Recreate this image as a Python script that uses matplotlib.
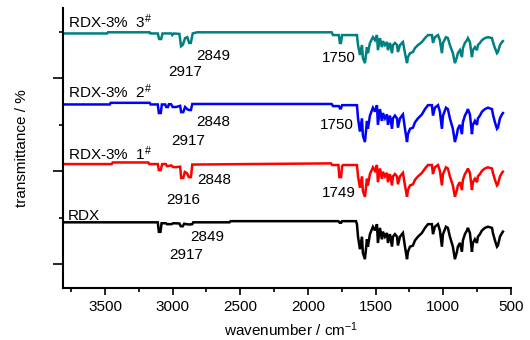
import matplotlib
matplotlib.use("Agg")
import matplotlib.pyplot as plt
from matplotlib.ticker import MultipleLocator

plt.rcParams['font.family'] = ['Liberation Sans', 'DejaVu Sans']
plt.rcParams['mathtext.fontset'] = 'custom'
plt.rcParams['mathtext.rm'] = 'Liberation Sans'
plt.rcParams['mathtext.it'] = 'Liberation Sans'
plt.rcParams['mathtext.bf'] = 'Liberation Sans'

# ---- data ----
series_names = ["RDX-3%  3$^{\\#}$", "RDX-3%  2$^{\\#}$", "RDX-3%  1$^{\\#}$", "RDX"]
series_colors = ["#008080", "#0000FF", "#FF0000", "#000000"]

wn_fp = [1638, 1630, 1616, 1601, 1594, 1579, 1564, 1557, 1542, 1520,
         1505, 1490, 1483, 1468, 1453, 1446, 1431, 1416, 1409, 1394,
         1379, 1372, 1357, 1342, 1335, 1320, 1305, 1298, 1283, 1268,
         1261, 1246, 1224, 1209, 1187, 1158, 1135, 1113, 1084, 1076,
         1062, 1039, 1025, 1010, 1002, 980, 966, 951, 929, 914,
         899, 892, 877, 862, 855, 840, 825, 818, 803, 788,
         781, 766, 751, 744, 729, 714, 692, 670, 640, 633,
         618, 603, 596, 581, 566, 559]

# teal (RDX-3% 3#)
wn_hi_3 = [3810, 3485, 3478, 3170, 3165, 3110, 3100, 3085, 3075, 3010, 3003, 2992, 2950, 2938,
           2925, 2908, 2892, 2878, 2866, 2852, 2820, 1825, 1815, 1772, 1764, 1756, 1748, 1645]
t_hi_3 = [99.4, 99.4, 99.9, 99.9, 99.4, 99.4, 97.0, 97.0, 99.4, 99.4, 98.7, 99.4, 99.2, 93.9,
          94.5, 97.4, 97.8, 95.3, 95.3, 99.4, 99.9, 99.9, 98.7, 98.7, 95.3, 95.3, 98.7, 98.7]
t_fp_3 = [98.7, 94.4, 90.1, 94.4, 88.8, 86.6, 93.5, 90.9, 95.3, 97.8,
          96.5, 98.7, 92.2, 97.4, 93.5, 96.1, 94.4, 95.7, 92.2, 95.3,
          90.9, 94.4, 95.3, 94.4, 91.4, 94.4, 95.3, 95.7, 90.9, 86.6,
          89.2, 90.9, 91.4, 93.1, 94.4, 95.7, 97.4, 98.7, 98.7, 95.3,
          97.8, 98.7, 96.5, 90.9, 95.3, 97.8, 97.4, 94.4, 90.9, 86.6,
          89.2, 90.9, 92.2, 89.2, 93.1, 95.3, 96.5, 97.4, 95.7, 89.2,
          92.2, 93.5, 92.2, 94.4, 95.3, 96.5, 97.4, 97.8, 97.4, 95.7,
          93.1, 90.9, 91.4, 94.4, 95.7, 96.1]

# blue (RDX-3% 2#)
wn_hi_2 = [3810, 3465, 3458, 3170, 3163, 3110, 3102, 3088, 3080, 3055, 3048, 3035, 3028, 3012, 3000,
           2975, 2945, 2937, 2922, 2908, 2893, 2880, 2865, 2855, 1825, 1815, 1772, 1764, 1756, 1748, 1645]
t_hi_2 = [68.8, 68.8, 69.5, 69.5, 68.8, 68.8, 65.1, 65.1, 68.8, 68.8, 67.7, 67.7, 68.9, 68.9, 67.7,
          67.7, 68.2, 65.5, 65.5, 67.7, 66.8, 66.4, 66.4, 69.0, 69.0, 68.1, 68.1, 67.1, 67.1, 68.5, 68.5]
t_fp_2 = [68.5, 62.8, 57.1, 62.8, 55.4, 52.6, 61.7, 58.3, 64.0, 67.4,
          65.7, 68.5, 60.0, 66.8, 61.7, 65.1, 62.8, 64.5, 60.0, 64.0,
          58.3, 62.8, 64.0, 62.8, 58.8, 62.8, 64.0, 64.5, 58.3, 52.6,
          56.0, 58.3, 58.8, 61.1, 62.8, 64.5, 66.8, 68.5, 68.5, 64.0,
          67.4, 68.5, 65.7, 58.3, 64.0, 67.4, 66.8, 62.8, 58.3, 52.6,
          56.0, 58.3, 60.0, 56.0, 61.1, 64.0, 65.7, 66.8, 64.5, 56.0,
          60.0, 61.7, 60.0, 62.8, 64.0, 65.7, 66.8, 67.4, 66.8, 64.5,
          61.1, 58.3, 58.8, 62.8, 64.5, 65.1]

# red (RDX-3% 1#)
wn_hi_1 = [3810, 3450, 3443, 3180, 3173, 3110, 3102, 3088, 3078, 3050, 3042, 3010, 2995, 2975, 2945,
           2937, 2922, 2910, 2895, 2880, 2865, 2855, 1830, 1822, 1775, 1768, 1755, 1748, 1740, 1645]
t_hi_1 = [43.1, 43.1, 43.8, 43.8, 43.1, 43.1, 40.5, 40.5, 43.1, 43.1, 42.2, 42.5, 41.8, 41.8, 42.0,
          37.1, 37.1, 39.7, 39.2, 37.5, 37.5, 42.9, 43.4, 42.7, 42.7, 37.5, 37.5, 42.2, 42.7, 42.7]
t_fp_1 = [42.7, 37.8, 32.9, 37.8, 31.4, 29.0, 36.8, 33.9, 38.8, 41.7,
          40.2, 42.7, 35.3, 41.2, 36.8, 39.8, 37.8, 39.3, 35.3, 38.8,
          33.9, 37.8, 38.8, 37.8, 34.4, 37.8, 38.8, 39.3, 33.9, 29.0,
          31.9, 33.9, 34.4, 36.3, 37.8, 39.3, 41.2, 42.7, 42.7, 38.8,
          41.7, 42.7, 40.2, 33.9, 38.8, 41.7, 41.2, 37.8, 33.9, 29.0,
          31.9, 33.9, 35.3, 31.9, 36.3, 38.8, 40.2, 41.2, 39.3, 31.9,
          35.3, 36.8, 35.3, 37.8, 38.8, 40.2, 41.2, 41.7, 41.2, 39.3,
          36.3, 33.9, 34.4, 37.8, 39.3, 39.8]

# black (RDX)
wn_hi_0 = [3810, 3110, 3102, 3090, 3082, 3050, 3042, 3010, 2995, 2950, 2940, 2925, 2915, 2890,
           2870, 2855, 2848, 2580, 2572, 1775, 1765, 1755, 1748, 1645]
t_hi_0 = [18.0, 18.0, 13.9, 13.9, 17.6, 17.6, 17.2, 17.2, 17.6, 17.5, 16.3, 16.3, 17.4, 17.1,
          17.1, 17.2, 18.0, 18.0, 18.5, 18.5, 17.8, 17.8, 18.5, 18.5]
t_fp_0 = [17.2, 11.8, 6.4, 11.8, 4.8, 2.1, 10.7, 7.5, 12.9, 16.1,
          14.5, 17.2, 9.1, 15.6, 10.7, 14.0, 11.8, 13.4, 9.1, 12.9,
          7.5, 11.8, 12.9, 11.8, 8.0, 11.8, 12.9, 13.4, 7.5, 2.1,
          5.3, 7.5, 8.0, 10.2, 11.8, 13.4, 15.6, 17.2, 17.2, 12.9,
          16.1, 17.2, 14.5, 7.5, 12.9, 16.1, 15.6, 11.8, 7.5, 2.1,
          5.3, 7.5, 9.1, 5.3, 10.2, 12.9, 14.5, 15.6, 13.4, 5.3,
          9.1, 10.7, 9.1, 11.8, 12.9, 14.5, 15.6, 16.1, 15.6, 13.4,
          10.2, 7.5, 8.0, 11.8, 13.4, 14.0]

name_pos = [(3773, 101.7), (3773, 71.6), (3773, 44.8), (3773, 19.0)]

peak_labels = ["2849", "2917", "1750", "2848", "2917", "1750", "2848", "2916", "1749", "2849", "2917"]
peak_label_x = [2698, 2905, 1775, 2698, 2883, 1789, 2694, 2920, 1771, 2742, 2898]
peak_label_y = [89.7, 82.8, 88.8, 61.2, 53.0, 59.9, 36.2, 27.6, 30.6, 11.6, 3.9]

# ---- plot ----
fig = plt.figure(figsize=(5.30, 3.40), dpi=100)
ax = fig.add_axes([0.119, 0.153, 0.845, 0.823])

spectra = [(wn_hi_3, t_hi_3, t_fp_3), (wn_hi_2, t_hi_2, t_fp_2),
           (wn_hi_1, t_hi_1, t_fp_1), (wn_hi_0, t_hi_0, t_fp_0)]
for (wh, th, tf), name, col, pos in zip(spectra, series_names, series_colors, name_pos):
    ax.plot(list(wh) + wn_fp, list(th) + tf, color=col, lw=1.8, solid_joinstyle='miter')
    ax.text(pos[0], pos[1], name, fontsize=11, ha='left', va='baseline')

for lab, x, y in zip(peak_labels, peak_label_x, peak_label_y):
    ax.text(x, y, lab, fontsize=11, ha='center', va='center')

ax.set_xlim(3810, 500)
ax.set_ylim(-10.3, 110.3)
ax.xaxis.set_major_locator(MultipleLocator(500))
ax.xaxis.set_minor_locator(MultipleLocator(250))
ax.yaxis.set_major_locator(MultipleLocator(40))
ax.yaxis.set_minor_locator(MultipleLocator(20))
ax.set_yticklabels([])
for s in ['top', 'right']:
    ax.spines[s].set_visible(False)
for s in ['left', 'bottom']:
    ax.spines[s].set_linewidth(1.5)
ax.tick_params(axis='both', which='major', direction='out', length=5, width=1.2, labelsize=11)
ax.tick_params(axis='both', which='minor', direction='out', length=3, width=1.2)
ax.tick_params(axis='y', which='major', length=7)

ax.set_xlabel("wavenumber / cm$^{-1}$", fontsize=11)
ax.set_ylabel("transmittance / %", fontsize=11)
ax.xaxis.set_label_coords(0.51, -0.115)
ax.yaxis.set_label_coords(-0.075, 0.5)

fig.savefig("out.png", dpi=100)
